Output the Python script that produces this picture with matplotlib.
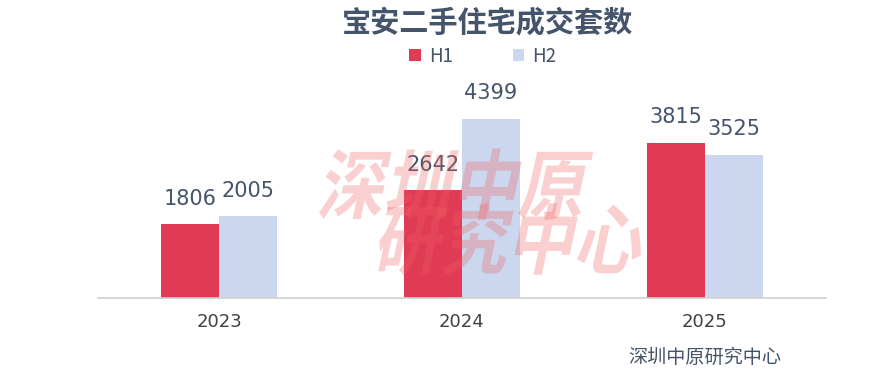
import matplotlib
matplotlib.use('Agg')
import matplotlib.pyplot as plt
import numpy as np
from matplotlib.textpath import TextPath
from matplotlib.patches import PathPatch
from matplotlib.font_manager import FontProperties
from matplotlib.transforms import Affine2D, IdentityTransform

plt.rcParams['font.family'] = ['Noto Sans CJK SC', 'DejaVu Sans']

years = ['2023', '2024', '2025']
h1 = [1806, 2642, 3815]
h2 = [2005, 4399, 3525]

c_h1 = '#E03A55'
c_h2 = '#CBD7EE'
txt = '#44546A'

fig = plt.figure(figsize=(8.86, 3.82), dpi=100)
ax = fig.add_axes([98 / 886, 84 / 382, 728 / 886, 203.5 / 382])

x = np.arange(len(years))
w = 0.239
ax.bar(x - w / 2, h1, w, color=c_h1, label='H1')
ax.bar(x + w / 2, h2, w, color=c_h2, label='H2')
for xi, v in zip(x, h1):
    ax.text(xi - w / 2, v + 390, str(v), ha='center', va='bottom', fontsize=15, color=txt, family='DejaVu Sans')
for xi, v in zip(x, h2):
    ax.text(xi + w / 2, v + 390, str(v), ha='center', va='bottom', fontsize=15, color=txt, family='DejaVu Sans')

ax.set_xlim(-0.5, 2.5)
ax.set_ylim(0, 5000)
ax.set_yticks([])
ax.set_xticks(x)
ax.set_xticklabels(years, fontsize=13, color='#404040', family='DejaVu Sans')
ax.tick_params(axis='x', length=0, pad=11)
for s in ['top', 'right', 'left']:
    ax.spines[s].set_visible(False)
ax.spines['bottom'].set_color('#D0D0D0')
ax.spines['bottom'].set_linewidth(1.2)

fig.text(487 / 886, 1 - 22 / 382, '宝安二手住宅成交套数', ha='center', va='center',
         fontsize=21, fontweight='bold', color=txt)
fig.legend(loc='center', bbox_to_anchor=(483 / 886, 1 - 56 / 382), ncol=2, frameon=False,
           fontsize=13.5, handlelength=0.6, handleheight=0.6, columnspacing=3.2,
           handletextpad=0.45, labelcolor=txt)

# watermark
fp = FontProperties(family='Noto Sans CJK SC', weight='bold')
for s, x0, y0 in [('深圳中原', 316, 382 - 213), ('研究中心', 372, 382 - 268)]:
    tp = TextPath((0, 0), s, size=76, prop=fp)
    tr = Affine2D().scale(0.88, 1.0).skew_deg(12, 0).translate(x0, y0)
    patch = PathPatch(tr.transform_path(tp), transform=IdentityTransform(),
                      facecolor='#F06060', edgecolor='none', alpha=0.3, zorder=5)
    fig.add_artist(patch)

fig.text(628 / 886, 1 - 357 / 382, '深圳中原研究中心', ha='left', va='center',
         fontsize=13.8, color=txt)

fig.savefig('out.png', dpi=100)
